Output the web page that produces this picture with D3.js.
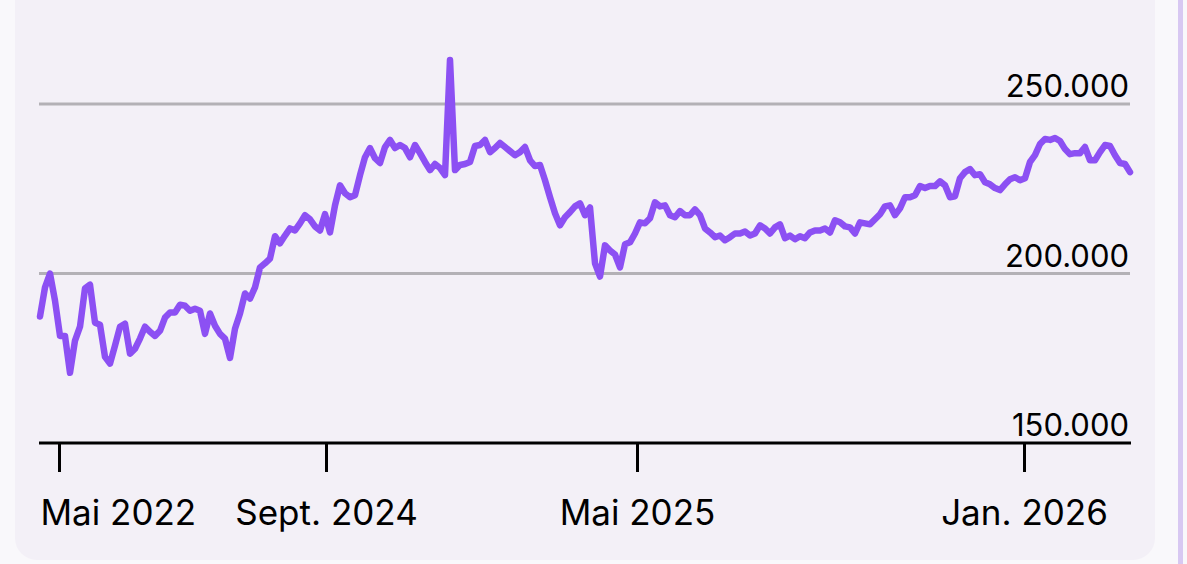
<!DOCTYPE html>
<html>
<head>
<meta charset="utf-8">
<script src="https://cdn.jsdelivr.net/npm/d3@7"></script>
<style>
	html, body { margin: 0; padding: 0; background: #f9f8fb; overflow: hidden; }
	svg { display: block; font-family: Inter, 'Noto Sans', sans-serif; }
</style>
</head>
<body>
<div id="chart"></div>
<script>
// price series, one value per step
const values = [
	187300, 195900, 200000, 192000, 181600, 181600, 170700, 180200, 184300, 195600,
	196700, 185500, 184900, 175400, 173400, 178700, 184300, 185200, 176300, 177800,
	180800, 184300, 182800, 181600, 183100, 187000, 188500, 188500, 190800, 190500,
	189000, 189600, 189000, 182200, 188200, 184600, 182200, 180800, 175100, 183700,
	188200, 194100, 192600, 195900, 201800, 203000, 204400, 211000, 208900, 211200,
	213300, 212700, 214800, 217200, 216000, 213900, 212700, 217500, 212100, 220100,
	226000, 223700, 222500, 223100, 229000, 234300, 237000, 234000, 232600, 237300,
	239400, 237000, 237900, 237000, 234300, 237900, 235500, 232900, 230500, 232300,
	231100, 229000, 263000, 230500, 232000, 232300, 232900, 237600, 237900, 239400,
	235800, 237000, 238500, 237300, 236100, 234900, 235800, 237300, 233400, 231700,
	232000, 227500, 222500, 217800, 214200, 216600, 218100, 219800, 220700, 217200,
	219500, 203000, 199100, 208300, 206800, 205600, 201800, 208600, 209200, 211800,
	215100, 214800, 216300, 221000, 219800, 220100, 217200, 216600, 218400, 217200,
	217200, 218900, 217200, 213300, 212100, 210700, 211200, 209800, 210700, 211800,
	211800, 212400, 211200, 211800, 214200, 213300, 211800, 213600, 214500, 210400,
	211200, 210100, 211000, 210400, 212100, 212700, 212700, 213300, 212100, 215700,
	215100, 213900, 213600, 211800, 215100, 214800, 214500, 216000, 217500, 219800,
	220100, 217200, 219200, 222500, 222500, 223100, 225800, 225200, 225800, 225800,
	227200, 226000, 222500, 222800, 228100, 229900, 230800, 229000, 229300, 226900,
	226300, 225200, 224600, 226300, 227800, 228400, 227500, 228100, 232900, 234900,
	238200, 239700, 239400, 240000, 239100, 236700, 235200, 235500, 235500, 237300,
	233400, 233400, 235800, 237900, 237600, 234900, 232600, 232300, 229900
];

// x axis ticks sit at these positions in the series
const tickIndex = [3.8, 57.2, 119.4, 196.8];
const tickLabels = ['Mai 2022', 'Sept. 2024', 'Mai 2025', 'Jan. 2026'];

const yTicks = [150000, 200000, 250000];

const width = 1187, height = 564;
const plot = { left: 40, right: 1130, top: 104, bottom: 443 };

const svg = d3.select('#chart').append('svg').attr('width', width).attr('height', height);

// card
svg.append('rect').attr('width', width).attr('height', height).attr('fill', '#f9f8fb');
svg.append('rect')
	.attr('x', 15).attr('y', -40)
	.attr('width', 1140).attr('height', 600)
	.attr('rx', 22)
	.attr('fill', '#f3f0f7');
svg.append('rect').attr('x', 1178).attr('y', 0).attr('width', 5).attr('height', height).attr('fill', '#d8c8f2');

const x = d3.scaleLinear().domain([0, values.length - 1]).range([plot.left, plot.right]);
const y = d3.scaleLinear().domain([150000, 250000]).range([plot.bottom, plot.top]);

const fmt = v => d3.format(',')(v).replace(/,/g, '.');

// grid lines
svg.append('g')
	.selectAll('line')
	.data(yTicks.filter(d => d > 150000))
	.enter()
	.append('line')
	.attr('x1', plot.left - 1).attr('x2', plot.right)
	.attr('y1', d => y(d)).attr('y2', d => y(d))
	.attr('stroke', '#b3b1b6')
	.attr('stroke-width', 3);

// line
svg.append('path')
	.datum(values)
	.attr('fill', 'none')
	.attr('stroke', '#8c50f3')
	.attr('stroke-width', 6.5)
	.attr('stroke-linejoin', 'round')
	.attr('stroke-linecap', 'round')
	.attr('d', d3.line().x((d, i) => x(i)).y(d => y(d)));

// y labels, right aligned above their line
svg.append('g')
	.selectAll('text')
	.data(yTicks)
	.enter()
	.append('text')
	.attr('x', plot.right - 1)
	.attr('y', d => y(d) - 7)
	.attr('text-anchor', 'end')
	.attr('font-size', 31)
	.attr('fill', '#000')
	.text(fmt);

// x axis
const xAxis = d3.axisBottom(x)
	.tickValues(tickIndex)
	.tickFormat((d, i) => tickLabels[i])
	.tickSize(29)
	.tickSizeOuter(0)
	.tickPadding(28);

const axisG = svg.append('g')
	.attr('transform', `translate(0, ${plot.bottom})`)
	.call(xAxis);

axisG.select('.domain')
	.attr('d', `M${plot.left - 1},0H${plot.right + 1}`)
	.attr('stroke', '#000')
	.attr('stroke-width', 3);
axisG.selectAll('.tick line').attr('stroke', '#000').attr('stroke-width', 3);
axisG.selectAll('.tick text')
	.attr('font-size', 35)
	.attr('font-family', 'Inter, sans-serif')
	.attr('fill', '#000')
	.attr('text-anchor', (d, i) => (i === 0 ? 'start' : 'middle'))
	.attr('x', (d, i) => (i === 0 ? plot.left - x(d) : 0));
</script>
</body>
</html>
